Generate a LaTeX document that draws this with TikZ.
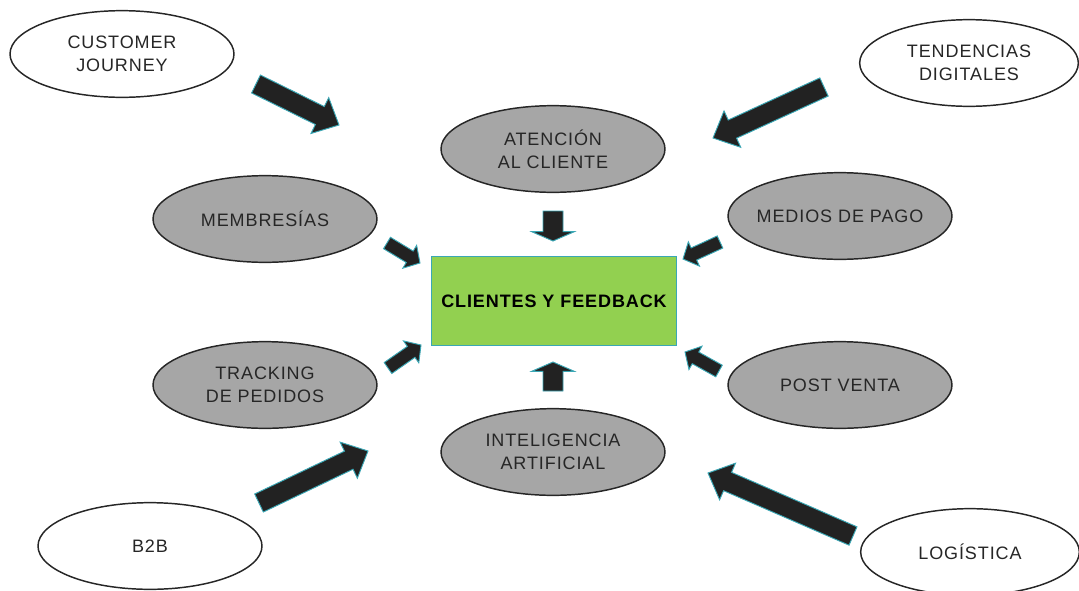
\documentclass[tikz,border=0pt]{standalone}
\usepackage{fontspec}
\setmainfont[LetterSpace=5]{Liberation Sans}
\usetikzlibrary{calc,shapes.geometric}

\definecolor{topicgray}{HTML}{A6A6A6}
\definecolor{hubgreen}{HTML}{92D050}
\definecolor{tealedge}{HTML}{3AA7B5}
\definecolor{arrowfill}{HTML}{222222}

\tikzset{
  lbl/.style={font=\fontsize{13.5pt}{17pt}\selectfont, align=center, text=black!85},
  bubble/.style={ellipse, draw=black!85, line width=1.1pt,
                 inner xsep=-30pt, inner ysep=0pt,
                 minimum width=168pt, minimum height=65pt, lbl},
  outer/.style={bubble, fill=white},
  inner/.style={bubble, fill=topicgray},
  hub/.style={rectangle, draw=tealedge, line width=0.8pt, fill=hubgreen,
              minimum width=184pt, minimum height=67pt,
              font=\bfseries\fontsize{13.5pt}{17pt}\selectfont},
  barrow/.style={fill=arrowfill, draw=tealedge, line width=0.7pt, line join=miter}
}

% block arrow: #1 tail, #2 tip, #3 shaft half width, #4 head half width, #5 head length
\newcommand{\blockarrow}[5]{%
  \coordinate (hb) at ($(#2)!#5!(#1)$);
  \filldraw[barrow]
    ($(#1)!#3!90:(#2)$) -- ($(hb)!#3!90:(#2)$) -- ($(hb)!#4!90:(#2)$) --
    (#2) --
    ($(hb)!#4!-90:(#2)$) -- ($(hb)!#3!-90:(#2)$) -- ($(#1)!#3!-90:(#2)$) -- cycle;
}

\begin{document}
\begin{tikzpicture}[x=0.75pt,y=-0.75pt]
  \useasboundingbox (0,0) rectangle (1079,590);

  % central hub
  \node[hub] (fb) at (554,301) {CLIENTES Y FEEDBACK};

  % inner ring of topics
  \node[inner] (at) at (553,149) {ATENCIÓN\\AL CLIENTE};
  \node[inner] (me) at (265,219) {MEMBRESÍAS};
  \node[inner] (mp) at (840,216) {MEDIOS DE PAGO};
  \node[inner] (tp) at (265,385) {TRACKING\\DE PEDIDOS};
  \node[inner] (pv) at (840,385) {POST VENTA};
  \node[inner] (ia) at (553,452) {INTELIGENCIA\\ARTIFICIAL};

  % outer ring of topics
  \node[outer] (cj) at (122,54)  {CUSTOMER\\JOURNEY};
  \node[outer, minimum width=164pt] (td) at (969,63)  {TENDENCIAS\\DIGITALES};
  \node[outer] (bb) at (150,546) {B2B};
  \node[outer, minimum width=164pt] (lo) at (970,552) {LOGÍSTICA};

  % arrow end points
  \coordinate (cj-t) at (256,84);  \coordinate (cj-h) at (339,125);
  \coordinate (td-t) at (824,87);  \coordinate (td-h) at (713,138);
  \coordinate (bb-t) at (259,503); \coordinate (bb-h) at (368,451);
  \coordinate (lo-t) at (853,536); \coordinate (lo-h) at (708,473);
  \coordinate (at-t) at (553,211); \coordinate (at-h) at (553,241);
  \coordinate (ia-t) at (553,391); \coordinate (ia-h) at (553,362);
  \coordinate (me-t) at (387,243); \coordinate (me-h) at (420,263);
  \coordinate (tp-t) at (388,368); \coordinate (tp-h) at (421,345);
  \coordinate (mp-t) at (720,242); \coordinate (mp-h) at (683,259);
  \coordinate (pv-t) at (719,371); \coordinate (pv-h) at (685,352);

  % outer arrows
  \blockarrow{cj-t}{cj-h}{7.5pt}{15pt}{16pt}
  \blockarrow{td-t}{td-h}{7.5pt}{15pt}{16pt}
  \blockarrow{bb-t}{bb-h}{7.5pt}{15pt}{16pt}
  \blockarrow{lo-t}{lo-h}{7.5pt}{15pt}{16pt}

  % inner arrows
  \blockarrow{at-t}{at-h}{7.5pt}{16pt}{7pt}
  \blockarrow{ia-t}{ia-h}{7.5pt}{16pt}{7pt}
  \blockarrow{me-t}{me-h}{5pt}{10pt}{9pt}
  \blockarrow{tp-t}{tp-h}{5pt}{10pt}{9pt}
  \blockarrow{mp-t}{mp-h}{5pt}{10pt}{9pt}
  \blockarrow{pv-t}{pv-h}{5pt}{10pt}{9pt}
\end{tikzpicture}
\end{document}
